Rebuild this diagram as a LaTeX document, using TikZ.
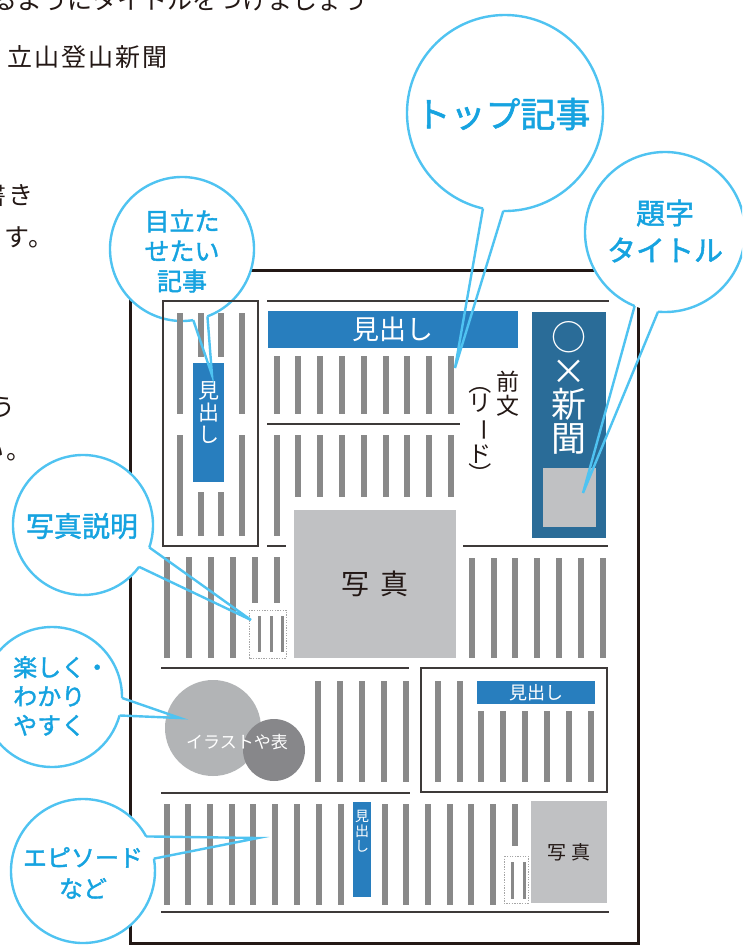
\documentclass[tikz,border=0pt]{standalone}
\usepackage{fontspec}
\usepackage{graphicx}
\setmainfont{Noto Sans CJK JP}
\newfontfamily\jp{Noto Sans CJK JP}
\newfontfamily\jpm[FakeBold=1.6]{Noto Sans CJK JP}
\newfontfamily\jpbody[LetterSpace=8]{Noto Sans CJK JP}
\newcommand\jfs[2]{\fontsize{#1}{#2}\selectfont}
\definecolor{barg}{HTML}{898989}
\definecolor{photog}{HTML}{C0C1C3}
\definecolor{hblue}{HTML}{287EBE}
\definecolor{dblue}{HTML}{2A6C98}
\definecolor{illl}{HTML}{B2B4B6}
\definecolor{illd}{HTML}{87878A}
\definecolor{bubl}{HTML}{4FC3F1}
\definecolor{bubt}{HTML}{16A3E0}
\definecolor{ink}{HTML}{231815}
\definecolor{lineg}{HTML}{3E3A39}
\begin{document}
\begin{tikzpicture}[x=1pt,y=1pt,yscale=-1,
  rule/.style={draw=lineg,line width=1.1pt},
  paperframe/.style={draw=ink,line width=3pt},
  bubedge/.style={draw=bubl,line width=2.4pt},
  tailline/.style={draw=bubl,line width=2.4pt,line join=miter},
  btext/.style={text=bubt,inner sep=0pt},
  wtext/.style={text=white,inner sep=0pt},
  ktext/.style={text=ink,inner sep=0pt},
  dotbox/.style={draw=black!35,line width=0.9pt,dash pattern=on 1.3pt off 1.3pt}]
\useasboundingbox (0,0) rectangle (742,945);
\clip (0,0) rectangle (742,945);
\fill[white] (0,0) rectangle (742,945);

% ---- fragments of the page text
\node[ktext,anchor=west,font={\jp\jfs{25}{30}}] (toptext) at (-8,0) {るようにタイトルをつけましょう};
\node[ktext,anchor=west,font={\jpbody\jfs{25}{30}}] (title) at (7,57.5) {立山登山新聞};
\node[ktext,anchor=east,font={\jpbody\jfs{25}{30}}] (frag1) at (34,195) {書き};
\node[ktext,anchor=east,font={\jpbody\jfs{25}{30}}] (frag2) at (54,237) {ます。};
\node[ktext,anchor=east,font={\jpbody\jfs{25}{30}}] (frag3) at (16,408) {ょう};
\node[ktext,anchor=east,font={\jpbody\jfs{25}{30}}] (frag4) at (32,452) {い。};

% ---- paper frame
\draw[paperframe] (130,270) rectangle (638,943);

% ---- bubbles (white discs with outline)
\fill[white] (505,113) circle[radius=98];
\draw[bubedge] (505,113) ++(91:98) arc[start angle=91,end angle=-257,radius=98];
\fill[white] (665,232) circle[radius=80];
\draw[bubedge] (665,232) ++(95:80) arc[start angle=95,end angle=-247.7,radius=80];
\fill[white] (182,249) circle[radius=72];
\draw[bubedge] (182,249) ++(69.3:72) arc[start angle=69.3,end angle=-279,radius=72];
\fill[white] (83,525) circle[radius=70];
\draw[bubedge] (83,525) ++(18.7:70) arc[start angle=18.7,end angle=-323.3,radius=70];
\fill[white] (52,697) circle[radius=70];
\draw[bubedge] (52,697) ++(0.8:70) arc[start angle=0.8,end angle=-344.7,radius=70];
\fill[white] (83,871) circle[radius=72];
\draw[bubedge] (83,871) ++(-28.7:72) arc[start angle=-28.7,end angle=-369.9,radius=72];

\node[btext,font={\jpm\jfs{35}{42}}] (topkiji) at (503,114) {トップ記事};
\node[btext,font={\jpm\jfs{29}{35}}] (daiji) at (665,213) {題字};
\node[btext,font={\jpm\jfs{29}{35}}] (daijititle) at (665,250) {タイトル};
\node[btext,font={\jpm\jfs{25}{30}},align=center] (medatase) at (182,251) {目立た\\せたい\\記事};
\node[btext,font={\jpm\jfs{28}{34}}] (shashinsetsumei) at (82,526) {写真説明};
\node[btext,font={\jpm\jfs{24}{29}},align=left,anchor=west] (tanoshiku) at (13,696) {楽しく・\\わかり\\やすく};
\node[btext,font={\jpm\jfs{24}{31}},align=center] (episode) at (83,873) {エピソード\\など};

% ---- thin rules
\draw[rule] (267,301) -- (609,301);
\draw[rule] (267,424) -- (460,424);
\draw[rule] (267,546) -- (286,546);
\draw[rule] (463,546) -- (608,546);
\draw[rule] (163,301) rectangle (258,546);
\draw[rule] (161,668) -- (409,668);
\draw[rule] (161,793) -- (410,793);
\draw[rule] (421,668) rectangle (607,792);
\draw[rule] (161,912) -- (609,912);

% ---- top-left box
\foreach \x in {180,242} {
  \fill[barg] (\x-3,313) rectangle (\x+3,414);
  \fill[barg] (\x-3,435) rectangle (\x+3,536);
}
\foreach \x in {200.5,221} {
  \fill[barg] (\x-3,313) rectangle (\x+3,357);
  \fill[barg] (\x-3,492) rectangle (\x+3,536);
}
\fill[hblue] (193,363) rectangle (224,482);
\node[wtext,font={\jp\jfs{21}{22}},align=center] (midashi2) at (208.5,413) {見\\出\\し};

% ---- top article
\node[fill=hblue,minimum width=250,minimum height=37,inner sep=0pt,text=white,font={\jp\jfs{27}{32}}] (midashi1) at (393,329.5) {見出し};
\foreach \x in {277,298,320,342,364,386,407,429,451}
  \fill[barg] (\x-3,356) rectangle (\x+3,414);
\fill[barg] (274,435) rectangle (280,536);
\foreach \x in {298,320,342,364,386,407,429,451}
  \fill[barg] (\x-3,435) rectangle (\x+3,497);
\node[ktext,font={\jp\jfs{23}{24}},align=center] (zenbun) at (508,394) {前\\文};
\node[ktext,font={\jp\jfs{23}{24}}] (lead1) at (480,383) {\rotatebox[origin=c]{-90}{（}};
\node[ktext,font={\jp\jfs{23}{24}}] (lead2) at (480,403) {リ};
\node[ktext,font={\jp\jfs{23}{24}}] (lead3) at (480,430) {\rotatebox[origin=c]{-90}{ー}};
\node[ktext,font={\jp\jfs{23}{24}}] (lead4) at (480,454) {ド};
\node[ktext,font={\jp\jfs{23}{24}}] (lead5) at (480,474) {\rotatebox[origin=c]{-90}{）}};

% ---- title block
\fill[dblue] (532,312) rectangle (606,538);
\node[wtext,font={\jp\jfs{35}{33.5}},align=center] (shinbun) at (569,388) {○\\×\\新\\聞};
\fill[photog] (543,468) rectangle (596,527);

% ---- middle band
\foreach \x in {167,189,211,233}
  \fill[barg] (\x-3,557) rectangle (\x+3,658);
\foreach \x in {255,277}
  \fill[barg] (\x-3,557) rectangle (\x+3,603);
\draw[dotbox] (249,610) rectangle (286,658);
\foreach \x in {259.5,271,282.5}
  \fill[barg] (\x-1.5,616) rectangle (\x+1.5,652);
\node[fill=photog,minimum width=162,minimum height=148,inner sep=0pt,text=ink,font={\jp\jfs{28}{34}}] (photo1) at (375,584) {写\hspace{11pt}真};
\foreach \x in {472,494,515,537,559,581,603}
  \fill[barg] (\x-3,558) rectangle (\x+3,658);

% ---- illustration row
\fill[illl] (213,728) circle[radius=48];
\fill[illd] (274,750) circle[radius=31];
\node[wtext,font={\jp\jfs{17}{20}}] (illust) at (237,742) {イラストや表};
\foreach \x in {318,340,362,384,406}
  \fill[barg] (\x-3,681) rectangle (\x+3,782);
\foreach \x in {438,460}
  \fill[barg] (\x-3,681) rectangle (\x+3,782);
\node[fill=hblue,minimum width=118,minimum height=23,inner sep=0pt,text=white,font={\jp\jfs{18}{21}}] (midashi3) at (536,692.5) {見出し};
\foreach \x in {481,503,525,547,569,591}
  \fill[barg] (\x-3,711) rectangle (\x+3,782);

% ---- bottom row
\foreach \x in {167,188,210,232,253,275,297,319,341,385,406,428,450,471,493}
  \fill[barg] (\x-3,804) rectangle (\x+3,905);
\fill[barg] (512,804) rectangle (518,846);
\fill[hblue] (353,802) rectangle (371,897);
\node[wtext,font={\jp\jfs{14}{15}},align=center] (midashi4) at (362,831) {見\\出\\し};
\draw[dotbox] (504,856) rectangle (528,903);
\fill[barg] (511,862) rectangle (514,899);
\fill[barg] (523,862) rectangle (526,899);
\node[fill=photog,minimum width=76,minimum height=102,inner sep=0pt,text=ink,font={\jp\jfs{19}{23}}] (photo2) at (569,852) {写\hspace{6pt}真};

% ---- bubble tails
\path (505,113) ++(103:98) coordinate (b1a);
\path (505,113) ++(91:98) coordinate (b1b);
\coordinate (b1tip) at (455,368);
\draw[tailline] (b1a) -- (b1tip) -- (b1b);
\path (665,232) ++(112.3:80) coordinate (b2a);
\path (665,232) ++(95:80) coordinate (b2b);
\coordinate (b2tip) at (583,493);
\draw[tailline] (b2a) -- (b2tip) -- (b2b);
\path (182,249) ++(81:72) coordinate (b3a);
\path (182,249) ++(69.3:72) coordinate (b3b);
\coordinate (b3tip) at (212,375);
\draw[tailline] (b3a) -- (b3tip) -- (b3b);
\path (83,525) ++(18.7:70) coordinate (b4a);
\path (83,525) ++(36.7:70) coordinate (b4b);
\coordinate (b4tip) at (251,620);
\draw[tailline] (b4a) -- (b4tip) -- (b4b);
\path (52,697) ++(0.8:70) coordinate (b5a);
\path (52,697) ++(15.3:70) coordinate (b5b);
\coordinate (b5tip) at (180,718);
\draw[tailline] (b5a) -- (b5tip) -- (b5b);
\path (83,871) ++(-28.7:72) coordinate (b6a);
\path (83,871) ++(-9.9:72) coordinate (b6b);
\coordinate (b6tip) at (258,838);
\draw[tailline] (b6a) -- (b6tip) -- (b6b);
\end{tikzpicture}
\end{document}
